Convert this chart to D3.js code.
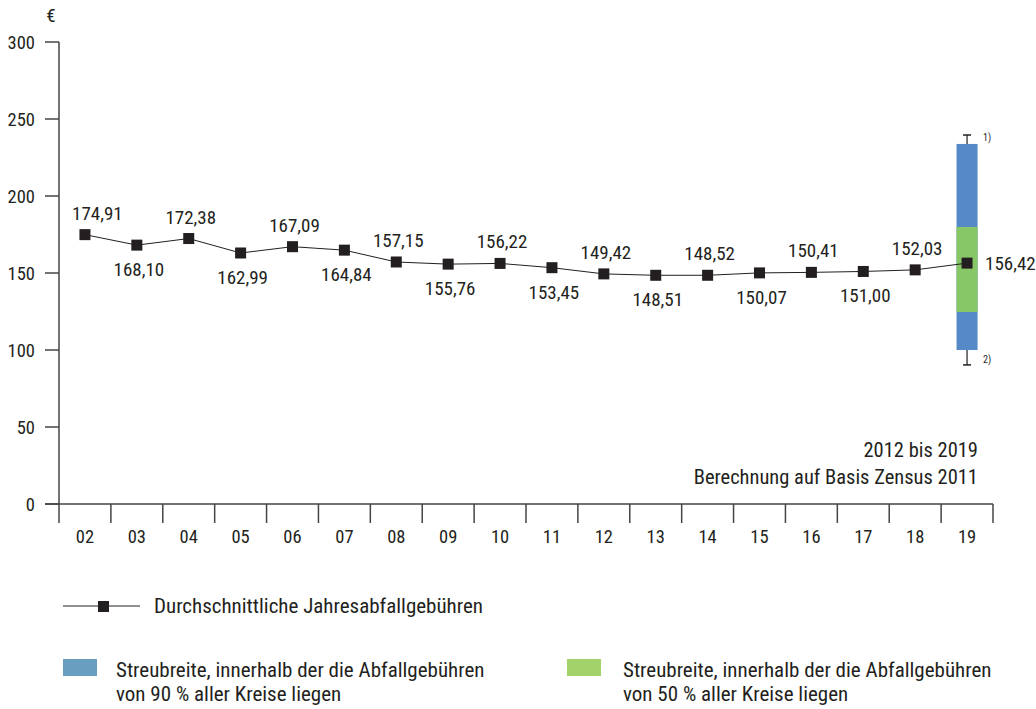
<!DOCTYPE html>
<html><head><meta charset="utf-8">
<script src="https://cdn.jsdelivr.net/npm/d3@7"></script>
<style>
body{margin:0;background:#fff;}
svg text{font-family:"Liberation Sans Narrow","Roboto Condensed","Arial Narrow",sans-serif;fill:#231f20;}
</style></head>
<body><svg id="c" width="1036" height="709"></svg>
<script>
const years = ["02","03","04","05","06","07","08","09","10","11","12","13","14","15","16","17","18","19"];
const values = [174.91,168.10,172.38,162.99,167.09,164.84,157.15,155.76,156.22,153.45,149.42,148.51,148.52,150.07,150.41,151.00,152.03,156.42];
const labelPos = ["above","below","above","below","above","below","above","below","above","below","above","below","above","below","above","below","above","right"];
const yTicks = [0,50,100,150,200,250,300];
const spread90 = [100.0, 233.8];
const spread50 = [124.7, 179.9];
const whiskers = [90.3, 239.6];
const legendLine = "Durchschnittliche Jahresabfallgebühren";
const legend90 = ["Streubreite, innerhalb der die Abfallgebühren","von 90 % aller Kreise liegen"];
const legend50 = ["Streubreite, innerhalb der die Abfallgebühren","von 50 % aller Kreise liegen"];
const notes = ["2012 bis 2019","Berechnung auf Basis Zensus 2011"];

const svg = d3.select("#c");
const x = d3.scaleBand().domain(years).range([59, 993]);
const y = d3.scaleLinear().domain([0,300]).range([504, 42]);
const fmt = v => v.toFixed(2).replace(".", ",");
const ink = "#231f20";

// y axis
svg.append("line").attr("x1",59).attr("x2",59).attr("y1",y(300)).attr("y2",523).attr("stroke","#444").attr("stroke-width",1.5);
yTicks.forEach(t=>{
  svg.append("line").attr("x1",45).attr("x2",59).attr("y1",y(t)).attr("y2",y(t)).attr("stroke","#444").attr("stroke-width",1.5);
  svg.append("text").attr("x",35).attr("y",y(t)+7).attr("text-anchor","end").attr("font-size",18.5).text(t);
});
svg.append("text").attr("x",51).attr("y",22).attr("text-anchor","middle").attr("font-size",19).text("€");

// x axis
svg.append("line").attr("x1",45).attr("x2",993).attr("y1",y(0)).attr("y2",y(0)).attr("stroke","#444").attr("stroke-width",1.5);
years.forEach((yr,i)=>{
  const xr = x(yr)+x.bandwidth();
  svg.append("line").attr("x1",xr).attr("x2",xr).attr("y1",y(0)).attr("y2",523).attr("stroke","#444").attr("stroke-width",1.5);
  svg.append("text").attr("x",x(yr)+x.bandwidth()/2).attr("y",543).attr("text-anchor","middle").attr("font-size",18.5).text(yr);
});

// spread box for last year
const lx = x(years[years.length-1]) + x.bandwidth()/2;
const bw = 21;
svg.append("line").attr("x1",lx).attr("x2",lx).attr("y1",y(whiskers[1])).attr("y2",y(spread90[1])).attr("stroke",ink).attr("stroke-width",1.2);
svg.append("line").attr("x1",lx).attr("x2",lx).attr("y1",y(spread90[0])).attr("y2",y(whiskers[0])).attr("stroke",ink).attr("stroke-width",1.2);
whiskers.forEach(w=>{
  svg.append("line").attr("x1",lx-4).attr("x2",lx+4).attr("y1",y(w)).attr("y2",y(w)).attr("stroke",ink).attr("stroke-width",1.5);
});
svg.append("rect").attr("x",lx-bw/2).attr("width",bw).attr("y",y(spread90[1])).attr("height",y(spread90[0])-y(spread90[1])).attr("fill","#5689c8");
svg.append("rect").attr("x",lx-bw/2).attr("width",bw).attr("y",y(spread50[1])).attr("height",y(spread50[0])-y(spread50[1])).attr("fill","#88c766");
svg.append("text").attr("x",983).attr("y",y(whiskers[1])+6).attr("font-size",10).text("1)");
svg.append("text").attr("x",983).attr("y",y(whiskers[0])-2).attr("font-size",10).text("2)");

// line
const line = d3.line().x((d,i)=>x(years[i])+x.bandwidth()/2).y(d=>y(d));
svg.append("path").datum(values).attr("d",line).attr("fill","none").attr("stroke",ink).attr("stroke-width",1);
svg.selectAll("rect.pt").data(values).enter().append("rect").attr("class","pt")
  .attr("x",(d,i)=>x(years[i])+x.bandwidth()/2-5.5).attr("y",d=>y(d)-5.5).attr("width",11).attr("height",11).attr("fill",ink);

// labels (kept clear of the y axis)
values.forEach((v,i)=>{
  const cx = x(years[i])+x.bandwidth()/2, cy = y(v);
  const t = svg.append("text").attr("font-size",19).text(fmt(v));
  if(labelPos[i]==="right"){ t.attr("x",cx+18).attr("y",cy+7).attr("text-anchor","start"); return; }
  t.attr("text-anchor","middle").attr("x",cx+2).attr("y",labelPos[i]==="above"?cy-15:cy+31);
  const bb = t.node().getBBox();
  if(bb.x < 72) t.attr("x",cx+2+(72-bb.x));
});

// notes
svg.append("text").attr("x",978).attr("y",457).attr("text-anchor","end").attr("font-size",20.5).text(notes[0]);
svg.append("text").attr("x",978).attr("y",484).attr("text-anchor","end").attr("font-size",20.5).text(notes[1]);

// legend
svg.append("line").attr("x1",63).attr("x2",140).attr("y1",606).attr("y2",606).attr("stroke",ink).attr("stroke-width",1);
svg.append("rect").attr("x",98).attr("y",601).attr("width",11).attr("height",11).attr("fill",ink);
svg.append("text").attr("x",154).attr("y",613).attr("font-size",21).text(legendLine);
svg.append("rect").attr("x",63).attr("y",659).attr("width",34).attr("height",17).attr("fill","#6a9ec0");
legend90.forEach((s,i)=>svg.append("text").attr("x",116).attr("y",677+i*24).attr("font-size",21).text(s));
svg.append("rect").attr("x",567).attr("y",659).attr("width",34).attr("height",17).attr("fill","#a3d16a");
legend50.forEach((s,i)=>svg.append("text").attr("x",623).attr("y",677+i*24).attr("font-size",21).text(s));
</script></body></html>
